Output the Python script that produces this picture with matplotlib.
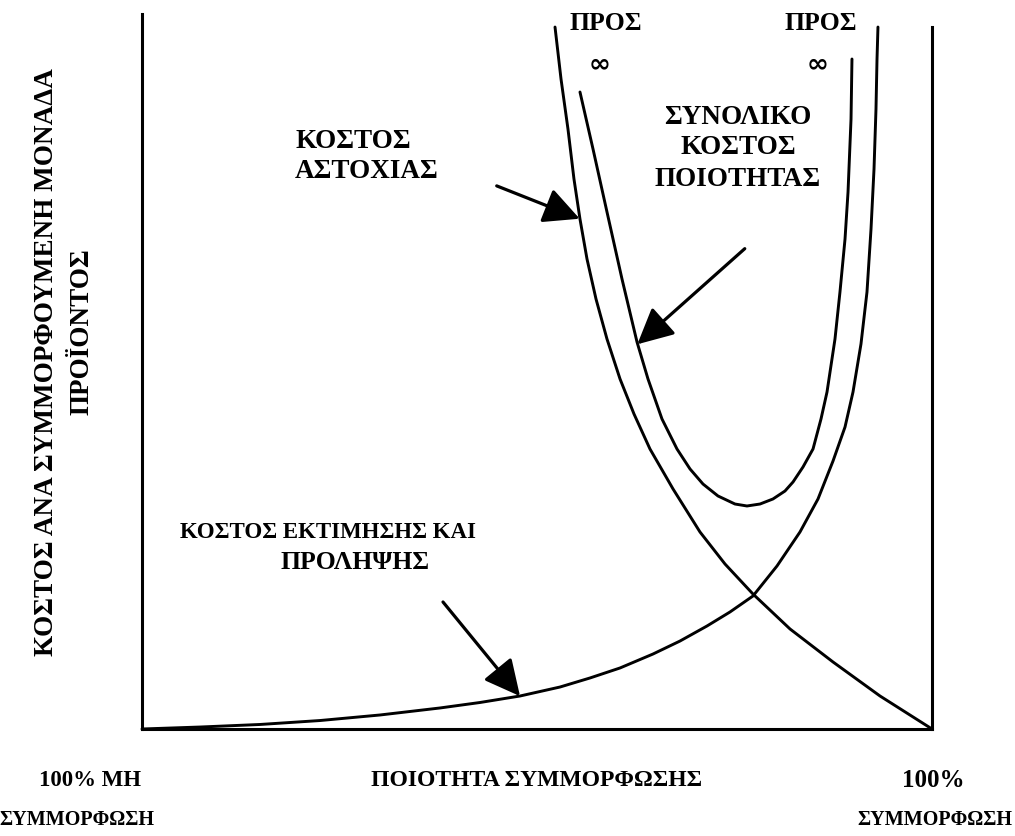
import numpy as np
import matplotlib
matplotlib.use("Agg")
import matplotlib.pyplot as plt

# conformance quality (0 = 100% non-conformance, 100 = 100% conformance), cost per unit (arbitrary)
fail_x = [52.28, 53.04, 53.92, 54.68, 55.44, 56.33, 57.47, 58.86, 60.51, 62.28, 64.30, 67.22,
          70.63, 73.80, 77.34, 82.03, 87.47, 93.42, 100]
fail_y = [96.16, 89.04, 82.19, 75.34, 69.86, 64.38, 58.90, 53.42, 47.95, 43.15, 38.36, 32.88,
          26.99, 22.60, 18.49, 13.70, 9.18, 4.52, 0]

total_x = [55.44, 57.09, 58.86, 60.76, 62.66, 64.05, 65.82, 67.72, 69.37, 71.01, 72.91, 75.06,
           76.58, 78.23, 79.87, 81.39, 82.41, 83.67, 84.94, 85.95, 86.71, 87.72, 88.35, 88.99,
           89.37, 89.75, 89.87]
total_y = [87.26, 79.45, 70.82, 61.64, 53.01, 47.95, 42.47, 38.36, 35.62, 33.56, 31.92, 30.82,
           30.55, 30.82, 31.51, 32.60, 33.84, 35.89, 38.36, 42.47, 46.16, 53.42, 59.86, 67.12,
           73.56, 83.56, 91.78]

prev_x = [0, 7.34, 14.94, 22.53, 30.13, 37.72, 42.78, 47.85, 52.91, 56.71, 60.51, 64.68, 68.10,
          71.52, 74.43, 77.34, 80.38, 83.29, 85.57, 87.47, 88.99, 90.0, 91.01, 91.77, 92.28,
          92.66, 92.91, 93.04, 93.16]
prev_y = [0, 0.27, 0.62, 1.16, 1.92, 2.88, 3.63, 4.52, 5.75, 6.99, 8.36, 10.27, 12.05, 14.11,
          16.03, 18.22, 22.33, 26.99, 31.51, 36.71, 41.37, 46.16, 52.74, 59.86, 68.49, 76.71,
          84.93, 91.78, 96.16]

# arrows: (tail, tip)
arrow_fail = ((44.9, 74.4), (55.4, 69.9))
arrow_total = ((76.3, 65.8), (62.7, 52.7))
arrow_prev = ((38.1, 17.4), (47.85, 4.5))

W, H = 1015, 837
fig = plt.figure(figsize=(W / 100, H / 100), dpi=100)
ax = fig.add_axes([142 / W, (H - 730) / H, 790 / W, 730 / H])
ax.set_xlim(0, 100)
ax.set_ylim(0, 100)

lw = 2.1
for xs, ys in ((fail_x, fail_y), (total_x, total_y), (prev_x, prev_y)):
    ax.plot(xs, ys, color='black', lw=lw, solid_capstyle='round',
            solid_joinstyle='round', clip_on=False)

for tail, tip in (arrow_fail, arrow_total, arrow_prev):
    ax.annotate('', xy=tip, xytext=tail,
                arrowprops=dict(arrowstyle='-|>,head_length=1.0,head_width=0.5',
                                color='black', lw=2.3, mutation_scale=22,
                                shrinkA=0, shrinkB=0))

ax.spines['top'].set_visible(False)
for s in ('left', 'bottom', 'right'):
    ax.spines[s].set_linewidth(2.2)
ax.spines['left'].set_bounds(0, 97.9)
ax.spines['right'].set_bounds(0, 96.2)
ax.set_xticks([])
ax.set_yticks([])


def ftext(px, py, s, size=17, family='Liberation Serif', **kw):
    fig.text(px / W, 1 - py / H, s, fontsize=size, va='center', weight='bold',
             color='black', family=family, **kw)


ftext(606, 23, 'ΠΡΟΣ', size=18.5, ha='center')
ftext(821, 23, 'ΠΡΟΣ', size=18.5, ha='center')
ftext(600, 64, '∞', size=19, ha='center', family='DejaVu Sans')
ftext(818, 64, '∞', size=19, ha='center', family='DejaVu Sans')

ftext(295, 142, 'ΚΟΣΤΟΣ', size=19.5, ha='left')
ftext(295, 172, 'ΑΣΤΟΧΙΑΣ', size=19.5, ha='left')

ftext(738, 117, 'ΣΥΝΟΛΙΚΟ', size=19.5, ha='center')
ftext(738, 148, 'ΚΟΣΤΟΣ', size=19.5, ha='center')
ftext(738, 179, 'ΠΟΙΟΤΗΤΑΣ', size=19.5, ha='center')

ftext(328, 532, 'ΚΟΣΤΟΣ ΕΚΤΙΜΗΣΗΣ ΚΑΙ', size=16.5, ha='center')
ftext(355, 563, 'ΠΡΟΛΗΨΗΣ', size=18.5, ha='center')

ftext(47, 362, 'ΚΟΣΤΟΣ ΑΝΑ ΣΥΜΜΟΡΦΟΥΜΕΝΗ ΜΟΝΑΔΑ', size=19.5, ha='center', rotation=90)
ftext(82, 332, 'ΠΡΟΪΟΝΤΟΣ', size=19.5, ha='center', rotation=90)

ftext(90, 781, '100% ΜΗ', size=16.5, ha='center')
ftext(77, 820, 'ΣΥΜΜΟΡΦΩΣΗ', size=14.5, ha='center')
ftext(537, 781, 'ΠΟΙΟΤΗΤΑ ΣΥΜΜΟΡΦΩΣΗΣ', size=17, ha='center')
ftext(933, 781, '100%', size=18, ha='center')
ftext(935, 820, 'ΣΥΜΜΟΡΦΩΣΗ', size=14.5, ha='center')

fig.savefig('out.png', dpi=100)
